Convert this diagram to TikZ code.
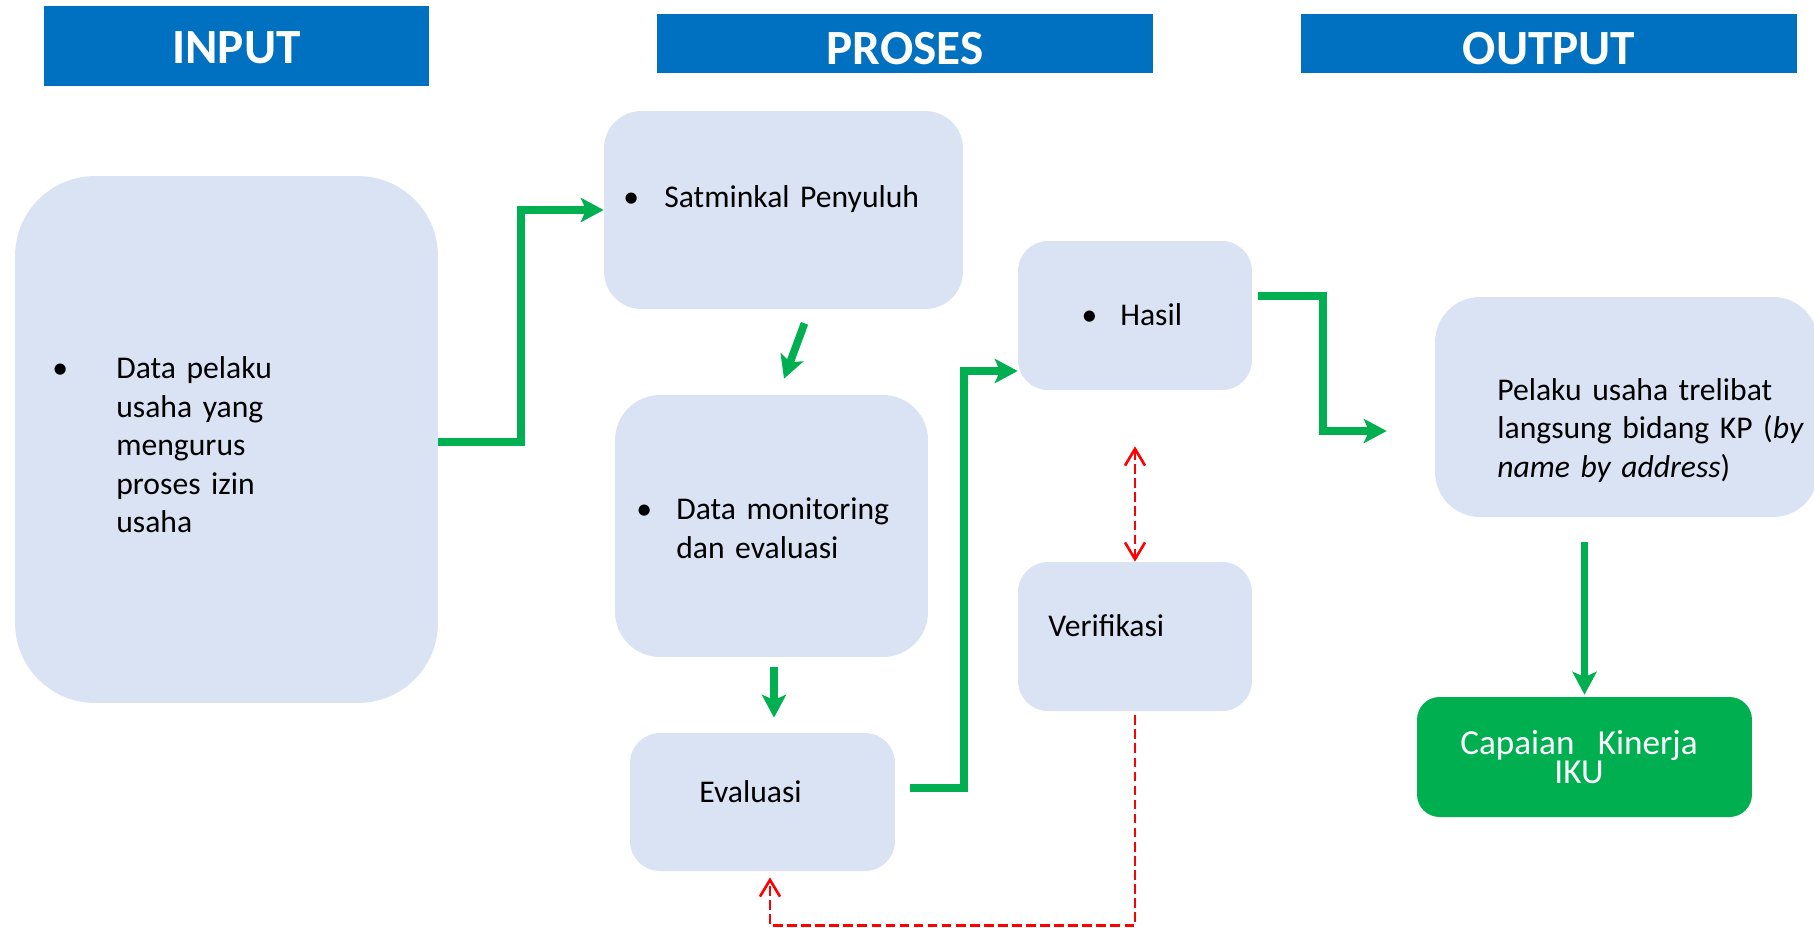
\documentclass[tikz,border=0pt]{standalone}
\usepackage{fontspec}
\setmainfont{Carlito}
\usepackage{tikz}
\usetikzlibrary{arrows.meta}
\definecolor{boxfill}{HTML}{DAE3F3}
\definecolor{headblue}{HTML}{0070C0}
\definecolor{arrgreen}{HTML}{00B050}
\definecolor{dashred}{HTML}{FF0000}

\begin{document}
\begin{tikzpicture}[x=0.02cm,y=-0.02cm,
  panel/.style={rectangle,fill=boxfill,inner sep=0pt},
  head/.style={rectangle,fill=headblue,text=white,inner sep=0pt,text height=0.82cm,text depth=0pt,font=\fontsize{28}{34}\selectfont\bfseries},
  txt/.style={anchor=base west,inner sep=0pt,text width=8cm,align=left,font=\fontsize{18}{21.9}\selectfont},
  garrow/.style={draw=arrgreen,line width=4.4pt,-{Stealth[length=13pt,width=13.7pt,inset=3pt]}},
  rarrow/.style={draw=dashred,line width=1.5pt,dash pattern=on 5.5pt off 2.5pt}]
\useasboundingbox (0,0) rectangle (1814,927);

\node (hin) at (236.5,46) [head,minimum width=7.7cm,minimum height=1.6cm,text height=0.69cm] {INPUT};
\node (hpr) at (905,43.5) [head,minimum width=9.92cm,minimum height=1.2cm] {PROSES};
\node (hou) at (1549,43.5) [head,minimum width=9.92cm,minimum height=1.2cm] {OUTPUT};

\node (inp) at (226.5,439.5) [panel,rounded corners=1.6cm,minimum width=8.46cm,minimum height=10.54cm] {};
\node (sat) at (783.5,210) [panel,rounded corners=0.75cm,minimum width=7.18cm,minimum height=3.96cm] {};
\node (dat) at (771.5,526) [panel,rounded corners=0.9cm,minimum width=6.26cm,minimum height=5.24cm] {};
\node (eva) at (762.5,802) [panel,rounded corners=0.6cm,minimum width=5.3cm,minimum height=2.76cm] {};
\node (has) at (1135,315.5) [panel,rounded corners=0.6cm,minimum width=4.68cm,minimum height=2.98cm] {};
\node (ver) at (1135,636.5) [panel,rounded corners=0.6cm,minimum width=4.68cm,minimum height=2.98cm] {};
\node (pel) at (1626.5,407) [panel,rounded corners=0.9cm,minimum width=7.66cm,minimum height=4.4cm] {};
\node (cap) at (1584.5,757) [panel,fill=arrgreen,rounded corners=0.45cm,minimum width=6.7cm,minimum height=2.4cm] {};

\node (tinp) at (116,378.6) [txt] {\llap{\makebox[0pt]{\textbullet}\hspace{1.12cm}}Data pelaku\\usaha yang\\mengurus\\proses izin\\usaha};
\node (tsat) at (664,207) [txt] {\llap{\makebox[0pt]{\textbullet}\hspace{0.66cm}}Satminkal Penyuluh};
\node (tdat) at (676,519.8) [txt] {\llap{\makebox[0pt]{\textbullet}\hspace{0.64cm}}Data monitoring\\dan evaluasi};
\node (teva) at (699,802.3) [txt] {Evaluasi};
\node (thas) at (1120,325.8) [txt] {\llap{\makebox[0pt]{\textbullet}\hspace{0.62cm}}Hasil};
\node (tver) at (1048,636.5) [txt] {Verifikasi};
\node (tpel) at (1497,400.4) [txt] {Pelaku usaha trelibat\\langsung bidang KP (\textit{by}\\\textit{name by address})};
\node (tcap) at (1579,754) [txt,anchor=base,align=center,text width=6cm,text=white,font=\fontsize{20}{17}\selectfont] {Capaian\ \ Kinerja\\IKU};

\draw[garrow] ([yshift=-0.05cm]inp.east) -- ++(83,0) |- (sat.west);
\draw[garrow] ([shift={(21,14)}]sat.south) -- ([shift={(12.5,-16)}]dat.north);
\draw[garrow] ([shift={(2.5,10)}]dat.south) -- ([shift={(11.5,-15)}]eva.north);
\draw[garrow] ([shift={(15,-14)}]eva.east) -- ++(54,0) |- ([shift={(0,55.5)}]has.west);
\draw[garrow] ([shift={(6,-19.5)}]has.east) -- ++(65,0) |- ([shift={(-48,24)}]pel.west);
\draw[garrow] ([shift={(-42,25)}]pel.south) -- ([shift={(0,-2)}]cap.north);

\coordinate (vtop) at ([shift={(0,56)}]has.south);
\draw[rarrow,{Straight Barb[length=9.5pt,width=11.4pt]}-{Straight Barb[length=9.5pt,width=11.4pt]}] (vtop) -- (ver.north);
\draw[rarrow,-{Straight Barb[length=9.5pt,width=11.4pt]}] ([shift={(0,4)}]ver.south) -- ++(0,210) -| ([shift={(7.5,6)}]eva.south);
\end{tikzpicture}
\end{document}
